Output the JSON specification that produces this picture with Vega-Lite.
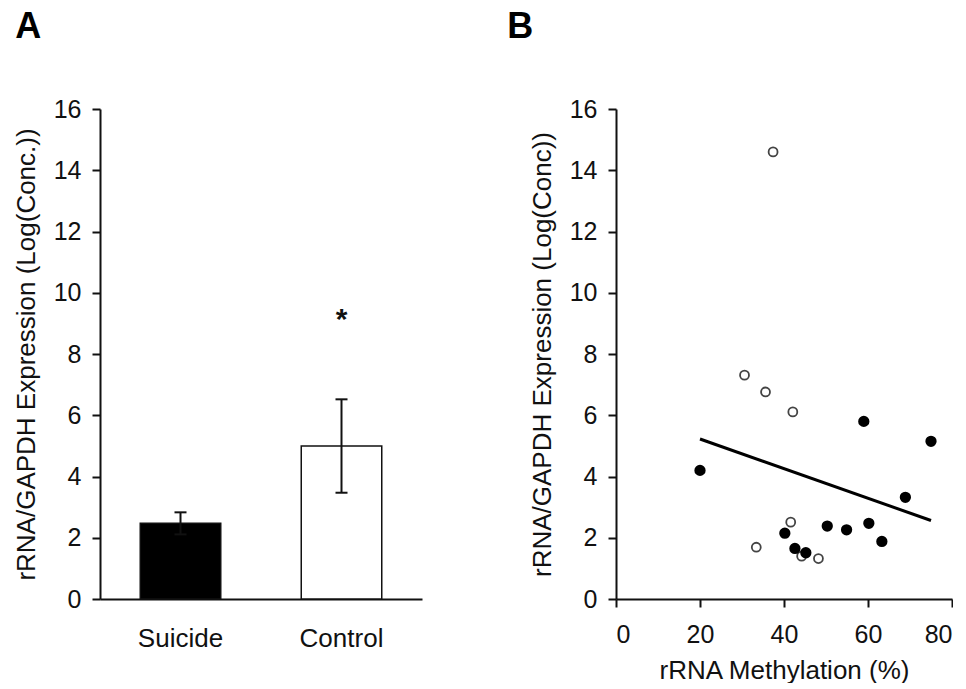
{
  "$schema": "https://vega.github.io/schema/vega-lite/v6.json",
  "padding": {"left": 13, "top": 9, "right": 0, "bottom": 0},
  "background": "white",
  "spacing": 85,
  "config": {
    "font": "Liberation Sans",
    "view": {"stroke": null},
    "axis": {
      "domainColor": "#111", "domainWidth": 2,
      "tickColor": "#111", "tickWidth": 2, "tickSize": 8,
      "labelColor": "#111", "labelFont": "Liberation Sans", "labelFontSize": 25,
      "titleFont": "Liberation Sans", "titleFontSize": 26, "titleFontWeight": "normal", "titleColor": "#111",
      "grid": false, "labelPadding": 11, "titlePadding": 14
    },
    "title": {"font": "Liberation Sans", "fontSize": 36, "fontWeight": "bold", "color": "#000", "anchor": "start"}
  },
  "hconcat": [
    {
      "width": 322,
      "height": 490,
      "title": {"text": "A", "frame": "bounds", "anchor": "start", "offset": 23, "baseline": "alphabetic", "dx": 2},
      "data": {"values": [
        {"group": "Suicide", "mean": 2.47, "lo": 2.11, "hi": 2.83},
        {"group": "Control", "mean": 5.0, "lo": 3.47, "hi": 6.52, "sig": "*", "sig_y": 9.1}
      ]},
      "encoding": {
        "x": {"field": "group", "type": "nominal", "sort": ["Suicide", "Control"],
              "scale": {"paddingInner": 0.5, "paddingOuter": 0.25},
              "axis": {"title": null, "labelAngle": 0, "ticks": false, "tickSize": 0, "labelPadding": 26, "labelFontSize": 26}}
      },
      "layer": [
        {
          "mark": {"type": "bar", "stroke": "#111", "strokeWidth": 1.5},
          "encoding": {
            "y": {"field": "mean", "type": "quantitative", "title": "rRNA/GAPDH Expression (Log(Conc.))",
                  "scale": {"domain": [0, 16], "nice": false},
                  "axis": {"values": [0, 2, 4, 6, 8, 10, 12, 14, 16]}},
            "fill": {"field": "group", "type": "nominal", "scale": {"domain": ["Suicide", "Control"], "range": ["#000000", "#ffffff"]}, "legend": null}
          }
        },
        {
          "mark": {"type": "rule", "color": "#111", "strokeWidth": 2},
          "encoding": {
            "y": {"field": "lo", "type": "quantitative", "title": "rRNA/GAPDH Expression (Log(Conc.))"},
            "y2": {"field": "hi"}
          }
        },
        {
          "mark": {"type": "tick", "color": "#111", "thickness": 2, "size": 12, "opacity": 1},
          "encoding": {"y": {"field": "hi", "type": "quantitative", "title": "rRNA/GAPDH Expression (Log(Conc.))"}}
        },
        {
          "mark": {"type": "tick", "color": "#111", "thickness": 2, "size": 12, "opacity": 1},
          "encoding": {"y": {"field": "lo", "type": "quantitative", "title": "rRNA/GAPDH Expression (Log(Conc.))"}}
        },
        {
          "transform": [{"filter": "datum.sig"}],
          "mark": {"type": "text", "fontSize": 30, "fontWeight": "bold", "baseline": "middle", "color": "#111"},
          "encoding": {
            "y": {"field": "sig_y", "type": "quantitative", "title": "rRNA/GAPDH Expression (Log(Conc.))"},
            "text": {"field": "sig"}
          }
        }
      ]
    },
    {
      "width": 336,
      "height": 490,
      "title": {"text": "B", "frame": "bounds", "anchor": "start", "offset": 23, "baseline": "alphabetic", "dx": -22},
      "data": {"values": [
        {"group": "Control", "meth": 30.6, "expr": 7.31},
        {"group": "Control", "meth": 35.6, "expr": 6.76},
        {"group": "Control", "meth": 42.1, "expr": 6.11},
        {"group": "Control", "meth": 41.6, "expr": 2.51},
        {"group": "Control", "meth": 33.4, "expr": 1.69},
        {"group": "Control", "meth": 44.2, "expr": 1.40},
        {"group": "Control", "meth": 48.2, "expr": 1.32},
        {"group": "Control", "meth": 37.4, "expr": 14.6},
        {"group": "Suicide", "meth": 20.0, "expr": 4.2},
        {"group": "Suicide", "meth": 40.2, "expr": 2.15},
        {"group": "Suicide", "meth": 42.6, "expr": 1.65},
        {"group": "Suicide", "meth": 45.2, "expr": 1.51},
        {"group": "Suicide", "meth": 50.3, "expr": 2.38},
        {"group": "Suicide", "meth": 54.9, "expr": 2.26},
        {"group": "Suicide", "meth": 59.0, "expr": 5.8},
        {"group": "Suicide", "meth": 60.2, "expr": 2.47},
        {"group": "Suicide", "meth": 63.3, "expr": 1.88},
        {"group": "Suicide", "meth": 68.9, "expr": 3.32},
        {"group": "Suicide", "meth": 75.0, "expr": 5.15}
      ]},
      "layer": [
        {
          "transform": [{"regression": "expr", "on": "meth"}],
          "mark": {"type": "line", "color": "#000", "strokeWidth": 3},
          "encoding": {
            "x": {"field": "meth", "type": "quantitative", "title": "rRNA Methylation (%)"},
            "y": {"field": "expr", "type": "quantitative", "title": "rRNA/GAPDH Expression (Log(Conc))"}
          }
        },
        {
          "mark": {"type": "point", "shape": "circle", "filled": true, "strokeWidth": 1.8, "opacity": 1},
          "encoding": {
            "x": {"field": "meth", "type": "quantitative", "title": "rRNA Methylation (%)",
                  "scale": {"domain": [0, 80], "nice": false},
                  "axis": {"values": [0, 20, 40, 60, 80], "labelPadding": 15, "titlePadding": 10}},
            "y": {"field": "expr", "type": "quantitative", "title": "rRNA/GAPDH Expression (Log(Conc))",
                  "scale": {"domain": [0, 16], "nice": false},
                  "axis": {"values": [0, 2, 4, 6, 8, 10, 12, 14, 16]}},
            "fill": {"field": "group", "type": "nominal", "scale": {"domain": ["Suicide", "Control"], "range": ["#000000", "#ffffff"]}, "legend": null},
            "stroke": {"field": "group", "type": "nominal", "scale": {"domain": ["Suicide", "Control"], "range": ["#000000", "#444444"]}, "legend": null},
            "size": {"field": "group", "type": "nominal", "scale": {"domain": ["Suicide", "Control"], "range": [90, 80]}, "legend": null}
          }
        }
      ]
    }
  ]
}
